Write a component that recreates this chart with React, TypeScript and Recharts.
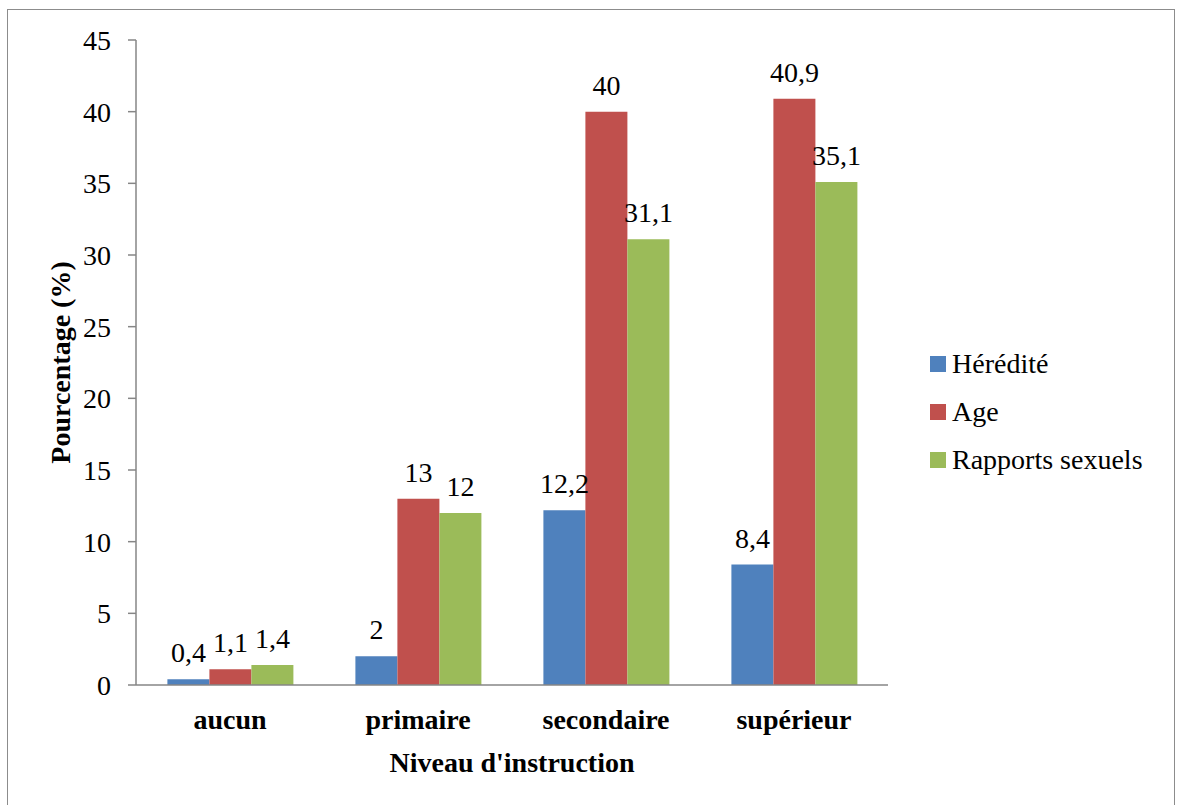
import { BarChart, Bar, XAxis, YAxis, LabelList, Label } from 'recharts'

const categories = ['aucun', 'primaire', 'secondaire', 'supérieur']
const heredite = [0.4, 2, 12.2, 8.4]
const age = [1.1, 13, 40, 40.9]
const rapports = [1.4, 12, 31.1, 35.1]
const yTicks = [0, 5, 10, 15, 20, 25, 30, 35, 40, 45]

const series = [
  { key: 'heredite', name: 'Hérédité', color: '#4F81BD' },
  { key: 'age', name: 'Age', color: '#C0504D' },
  { key: 'rapports', name: 'Rapports sexuels', color: '#9BBB59' }
]

const data = categories.map((c, i) => ({
  cat: c,
  heredite: heredite[i],
  age: age[i],
  rapports: rapports[i]
}))

const FONT = 'Liberation Serif, Times New Roman, Tinos, DejaVu Serif, serif'
const AXIS = '#868686'

const fmt = (v: number) => String(v).replace('.', ',')

export default function App() {
  return (
    <div style={{ position: 'absolute', left: 0, top: 0, width: 1177, height: 805, background: '#fff', overflow: 'hidden' }}>
      <div
        style={{
          position: 'absolute',
          left: 7,
          top: 9,
          width: 1168,
          height: 820,
          border: '1px solid #8c8c8c',
          boxSizing: 'border-box'
        }}
      />
      <div style={{ position: 'absolute', left: 0, top: 0 }}>
        <BarChart
          width={1177}
          height={805}
          data={data}
          margin={{ top: 40, right: 289, bottom: 0, left: 0 }}
          barCategoryGap="16.7%"
          barGap={0}
        >
          <XAxis
            dataKey="cat"
            height={120}
            axisLine={{ stroke: AXIS, strokeWidth: 1.5 }}
            tickLine={false}
            tickMargin={18}
            tick={{ fontFamily: FONT, fontSize: 28, fontWeight: 'bold', fill: '#000' }}
          >
            <Label
              value="Niveau d'instruction"
              position="insideBottom"
              offset={33}
              style={{ fontFamily: FONT, fontSize: 28, fontWeight: 'bold', fill: '#000' }}
            />
          </XAxis>
          <YAxis
            width={136}
            domain={[0, 45]}
            ticks={yTicks}
            interval={0}
            axisLine={{ stroke: AXIS, strokeWidth: 1.5 }}
            tickLine={{ stroke: AXIS, strokeWidth: 1.5 }}
            tickSize={8}
            tickMargin={17}
            tick={{ fontFamily: FONT, fontSize: 28, fill: '#000' }}
          >
            <Label
              content={({ viewBox }: any) => {
                const cy = viewBox.y + viewBox.height / 2
                return (
                  <text
                    x={60}
                    y={cy}
                    transform={`rotate(-90, 60, ${cy})`}
                    textAnchor="middle"
                    dominantBaseline="central"
                    style={{ fontFamily: FONT, fontSize: 28, fontWeight: 'bold', fill: '#000' }}
                  >
                    Pourcentage (%)
                  </text>
                )
              }}
            />
          </YAxis>
          {series.map((s) => (
            <Bar key={s.key} dataKey={s.key} name={s.name} fill={s.color} isAnimationActive={false}>
              <LabelList
                dataKey={s.key}
                position="top"
                offset={17}
                formatter={(v: any) => fmt(v)}
                style={{ fontFamily: FONT, fontSize: 28, fill: '#000' }}
              />
            </Bar>
          ))}
        </BarChart>
      </div>
      <div style={{ position: 'absolute', left: 930, top: 340, fontFamily: FONT, fontSize: 28, color: '#000' }}>
        {series.map((s) => (
          <div key={s.key} style={{ display: 'flex', alignItems: 'center', height: 48, whiteSpace: 'nowrap' }}>
            <span style={{ width: 16, height: 16, background: s.color, marginRight: 6, display: 'inline-block' }} />
            <span>{s.name}</span>
          </div>
        ))}
      </div>
    </div>
  )
}
